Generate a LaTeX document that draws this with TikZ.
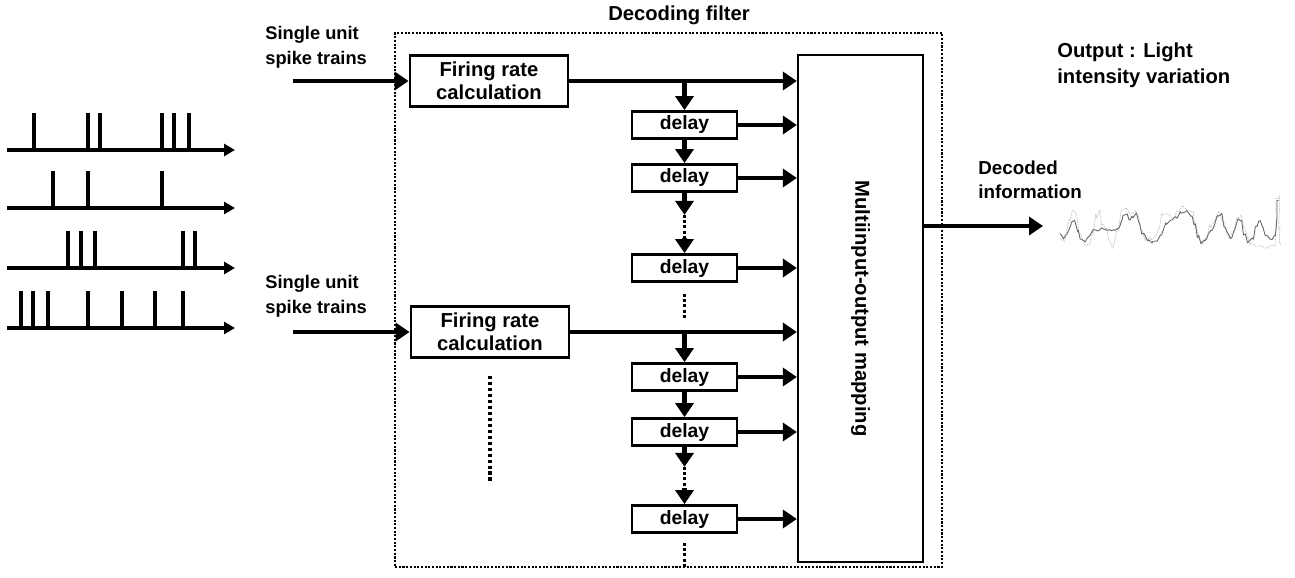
\documentclass[tikz,border=0pt]{standalone}
\usepackage{fontspec}
\setmainfont{Liberation Sans}
\usetikzlibrary{positioning, arrows.meta}

\begin{document}
\begin{tikzpicture}[x=0.02cm, y=-0.02cm]
	\tikzset{
		box/.style={draw, line width=1.6pt, inner sep=0pt, align=center, font=\bfseries\fontsize{11.5}{13}\selectfont},
		frbox/.style={box, minimum width=3.16cm, minimum height=1.02cm},
		delaybox/.style={box, minimum width=2.1cm, minimum height=0.54cm, font=\bfseries\fontsize{11}{12}\selectfont},
		arr/.style={line width=2.3pt, -{Triangle[length=0.28cm, width=0.36cm]}},
		trainarr/.style={line width=2.6pt, -{Triangle[length=0.22cm, width=0.24cm]}},
		dotline/.style={line width=1.9pt, dash pattern=on 1.6pt off 1.4pt},
		lbl/.style={inner sep=0pt, align=left, font=\bfseries\fontsize{10.4}{14.2}\selectfont},
		trace/.style={line width=0.5pt, line join=round}
	}
	\useasboundingbox (0,0) rectangle (1295,578);

	% spike trains
	\foreach \y/\spikes in {150/{34,88,100,162,174,189}, 208/{53,88,162}, 268/{68,81,95,183,195}, 328/{21,33,48,88,122,155,183}} {
		\draw[trainarr] (7,\y) -- (235,\y);
		\foreach \x in \spikes
			\draw[line width=2.6pt] (\x,\y) -- (\x,\y-37);
	}

	% decoding filter
	\node[font=\bfseries\fontsize{11.5}{13}\selectfont] (title) at (679,15) {Decoding filter};
	\node[draw, line width=1.2pt, dash pattern=on 1.2pt off 0.9pt, minimum width=10.94cm, minimum height=10.68cm] (filter) at (668.5,300) {};

	\node[frbox] (fr1) at (489,81) {Firing rate\\calculation};
	\node[frbox] (fr2) at (490,332) {Firing rate\\calculation};
	\node[draw, line width=1.3pt, minimum width=2.5cm, minimum height=10.14cm] (mm) at (860.5,308.5) {};
	\node[rotate=-90, font=\bfseries\fontsize{11.5}{13}\selectfont] (mmlbl) at (mm.center) {Multiinput-output mapping};

	\foreach \i/\y in {1/125, 2/178, 3/268, 4/377, 5/432, 6/519}
		\node[delaybox] (d\i) at (684.5,\y) {delay};

	% inputs
	\node[lbl, anchor=west] (in1) at (265,47) {Single unit\\spike trains};
	\node[lbl, anchor=west] (in2) at (265,296) {Single unit\\spike trains};
	\coordinate (s1) at (293,81);
	\coordinate (s2) at (293,332);
	\draw[arr] (s1) -- (fr1.west);
	\draw[arr] (s2) -- (fr2.west);

	% into the mapping
	\draw[arr] (fr1.east) -- (fr1.east -| mm.west);
	\draw[arr] (fr2.east) -- (fr2.east -| mm.west);
	\foreach \i in {1,...,6}
		\draw[arr] (d\i.east) -- (d\i.east -| mm.west);

	% delay chains
	\draw[arr] (fr1.east -| d1.north) -- (d1.north);
	\draw[arr] (d1) -- (d2);
	\coordinate (g1) at ([yshift=-0.44cm]d2.south);
	\coordinate (g2) at ([yshift=0.3cm]d3.north);
	\draw[arr] (d2.south) -- (g1);
	\draw[dotline] (g1) -- (g2);
	\draw[arr] (g2) -- (d3.north);
	\coordinate (e1) at ([yshift=-0.22cm]d3.south);
	\coordinate (e2) at ([yshift=-0.72cm]d3.south);
	\draw[dotline] (e1) -- (e2);

	\draw[arr] (fr2.east -| d4.north) -- (d4.north);
	\draw[arr] (d4) -- (d5);
	\coordinate (g3) at ([yshift=-0.4cm]d5.south);
	\coordinate (g4) at ([yshift=0.32cm]d6.north);
	\draw[arr] (d5.south) -- (g3);
	\draw[dotline] (g3) -- (g4);
	\draw[arr] (g4) -- (d6.north);
	\coordinate (e3) at ([yshift=-0.18cm]d6.south);
	\coordinate (e4) at ([yshift=-0.7cm]d6.south);
	\draw[dotline] (e3) -- (e4);

	\coordinate (f1) at ([yshift=-0.34cm]fr2.south);
	\coordinate (f2) at ([yshift=-2.44cm]fr2.south);
	\draw[line width=2pt, dash pattern=on 1.8pt off 1.6pt] (f1) -- (f2);

	% output
	\coordinate (out) at (1043,226);
	\draw[arr] (mm.east |- out) -- (out);
	\node[anchor=west, inner sep=0pt, align=left, font=\bfseries\fontsize{10.7}{13.6}\selectfont] (dec) at (978,180) {Decoded\\information};
	\node[anchor=west, inner sep=0pt, align=left, font=\bfseries\fontsize{11.5}{14.7}\selectfont] (outlbl) at (1057,65) {Output : Light\\intensity variation};

	% decoded light intensity trace
	\pgfmathsetseed{5}
	\begin{scope}[shift={(1040,180)}, scale=0.3333]
		\draw[trace, gray!45, dash pattern=on 0.8pt off 0.6pt] (60,175)
			\foreach \x/\y in {75/190, 90/120, 100/95, 110/105, 120/160, 135/190, 150/195, 160/160, 170/110, 180/95, 190/130, 200/150, 210/180, 220/200, 235/150, 245/95, 258/85, 270/100, 285/95, 295/110, 305/150, 320/175, 335/180, 350/170, 360/140, 370/105, 385/100, 400/110, 415/95, 430/80, 445/90, 460/100, 470/140, 480/175, 490/195, 500/175, 512/140, 525/120, 540/95, 550/120, 560/150, 570/180, 580/160, 595/110, 605/105, 615/140, 625/175, 635/190, 650/195, 670/200, 690/200, 705/195, 710/150, 712/60, 718/50, 720/140, 722/190}
				{ -- (\x-4+1.5*rand, \y+7*rand) -- (\x+1.5*rand, \y+5*rand) };
		\draw[trace, black!60] (60,160)
			\foreach \x/\y in {70/175, 80/160, 95/130, 105/125, 115/150, 125/175, 140/180, 150/165, 160/150, 175/150, 190/145, 205/150, 215/155, 225/148, 240/140, 250/110, 262/100, 270/120, 280/110, 290/100, 300/130, 310/160, 325/180, 340/185, 355/180, 365/160, 380/130, 395/120, 410/115, 425/100, 440/95, 455/105, 465/130, 475/170, 485/190, 495/185, 505/165, 515/150, 525/135, 535/110, 545/100, 555/140, 565/160, 575/175, 585/150, 595/115, 605/120, 615/165, 625/185, 640/175, 650/140, 660/125, 670/145, 680/165, 695/175, 705/170, 712/120, 715/60}
				{ -- (\x-3+1.5*rand, \y+6*rand) -- (\x+1.5*rand, \y+4*rand) };
	\end{scope}
\end{tikzpicture}
\end{document}
